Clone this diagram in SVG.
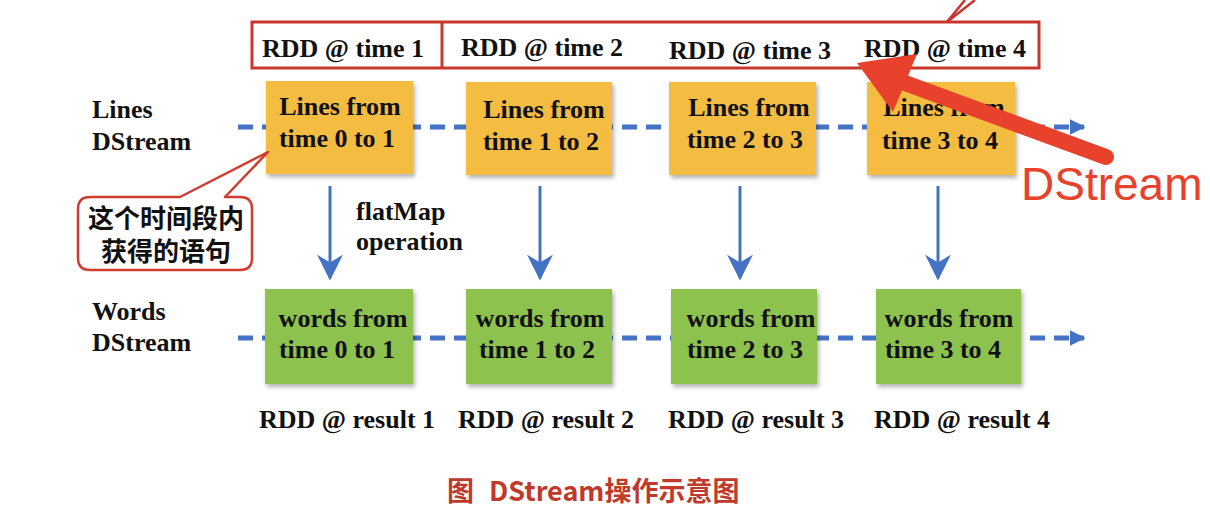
<svg xmlns="http://www.w3.org/2000/svg" width="1210" height="532" viewBox="0 0 1210 532">
<style>
.t{font-family:"Liberation Serif","Times New Roman",serif;font-weight:bold;font-size:26px;fill:#111;}
.c{text-anchor:middle;}
.yb{fill:#F4BC3F;filter:url(#sh);}
.gb{fill:#8EC24F;filter:url(#sh);}
.dash{stroke:#4472C4;stroke-width:5;stroke-dasharray:15 9;fill:none;}
.va{stroke:#4472C4;stroke-width:3;fill:none;}
.frame{fill:none;stroke:#C9372C;stroke-width:3;}
.cjk{font-family:"Noto Sans CJK SC",sans-serif;font-weight:bold;}
</style>
<defs>
<filter id="sh" x="-10%" y="-10%" width="125%" height="125%">
<feDropShadow dx="2" dy="3" stdDeviation="2" flood-color="#000" flood-opacity="0.3"/>
</filter>
<marker id="ah" viewBox="0 0 10 10" refX="9" refY="5" markerWidth="16" markerHeight="16" markerUnits="userSpaceOnUse" orient="auto">
<path d="M0,0 L10,5 L0,10 z" fill="#4472C4"/>
</marker>
<marker id="va" viewBox="0 0 10 10" refX="9" refY="5" markerWidth="26" markerHeight="26" markerUnits="userSpaceOnUse" orient="auto">
<path d="M0,0 L10,5 L0,10 L3,5 z" fill="#4472C4"/>
</marker>
</defs>
<rect width="1210" height="532" fill="#fff"/>

<g id="connectors">
<line class="dash" x1="238" y1="127" x2="1084" y2="127" marker-end="url(#ah)"/>
<line class="dash" x1="238" y1="338" x2="1084" y2="338" marker-end="url(#ah)"/>
<line class="va" x1="330" y1="186" x2="330" y2="278" marker-end="url(#va)"/>
<line class="va" x1="540" y1="186" x2="540" y2="278" marker-end="url(#va)"/>
<line class="va" x1="740" y1="186" x2="740" y2="278" marker-end="url(#va)"/>
<line class="va" x1="938" y1="186" x2="938" y2="278" marker-end="url(#va)"/>
</g>

<g id="time-frame">
<rect class="frame" x="252" y="22" width="787" height="46"/>
<line class="frame" x1="442" y1="22" x2="442" y2="68"/>
<polyline points="975,0 947,22 965,0" fill="none" stroke="#C9372C" stroke-width="2.5"/>
<text class="t c" x="343" y="57">RDD @ time 1</text>
<text class="t c" x="542" y="56">RDD @ time 2</text>
<text class="t c" x="750" y="59">RDD @ time 3</text>
<text class="t c" x="945" y="57">RDD @ time 4</text>
</g>

<g id="row-labels">
<text class="t" x="92" y="118">Lines</text>
<text class="t" x="92" y="150">DStream</text>
<text class="t" x="92" y="320">Words</text>
<text class="t" x="92" y="351">DStream</text>
<text class="t" x="356" y="220">flatMap</text>
<text class="t" x="356" y="250">operation</text>
</g>

<g id="lines-0-1"><rect class="yb" x="266" y="81" width="147" height="93"/><text class="t c" x="340" y="115">Lines from</text><text class="t c" x="337" y="147">time 0 to 1</text></g>
<g id="lines-1-2"><rect class="yb" x="466" y="82" width="146" height="93"/><text class="t c" x="544" y="118">Lines from</text><text class="t c" x="541" y="150">time 1 to 2</text></g>
<g id="lines-2-3"><rect class="yb" x="669" y="82" width="147" height="93"/><text class="t c" x="749" y="116">Lines from</text><text class="t c" x="745" y="148">time 2 to 3</text></g>
<g id="lines-3-4"><rect class="yb" x="867" y="82" width="148" height="93"/><text class="t c" x="944" y="116">Lines from</text><text class="t c" x="940" y="149">time 3 to 4</text></g>

<g id="words-0-1"><rect class="gb" x="265" y="289" width="148" height="95"/><text class="t c" x="343" y="327">words from</text><text class="t c" x="337" y="358">time 0 to 1</text></g>
<g id="words-1-2"><rect class="gb" x="466" y="289" width="146" height="95"/><text class="t c" x="540" y="327">words from</text><text class="t c" x="537" y="358">time 1 to 2</text></g>
<g id="words-2-3"><rect class="gb" x="671" y="289" width="146" height="95"/><text class="t c" x="751" y="327">words from</text><text class="t c" x="745" y="358">time 2 to 3</text></g>
<g id="words-3-4"><rect class="gb" x="876" y="289" width="145" height="95"/><text class="t c" x="949" y="327">words from</text><text class="t c" x="943" y="358">time 3 to 4</text></g>

<g id="results">
<text class="t c" x="347" y="428">RDD @ result 1</text>
<text class="t c" x="546" y="428">RDD @ result 2</text>
<text class="t c" x="756" y="428">RDD @ result 3</text>
<text class="t c" x="962" y="428">RDD @ result 4</text>
</g>

<g id="callout">
<path d="M90,197 L180,197 L268,152 L225,197 L240,197 Q252,197 252,209 L252,258 Q252,270 240,270 L90,270 Q78,270 78,258 L78,209 Q78,197 90,197 Z" fill="#fff" stroke="#D13C30" stroke-width="2.5" stroke-linejoin="round"/>
<text class="cjk" x="166" y="228" font-size="26" text-anchor="middle" fill="#111">这个时间段内</text>
<text class="cjk" x="166" y="261" font-size="26" text-anchor="middle" fill="#111">获得的语句</text>
</g>

<g id="annotation">
<line x1="1106" y1="157" x2="905" y2="83" stroke="#E8412C" stroke-width="16" stroke-linecap="round"/>
<polygon points="857,63 917,54 893,112" fill="#E8412C"/>
<text x="1021" y="200" font-family="'Liberation Sans',Arial,sans-serif" font-size="46" fill="#E8412C">DStream</text>
</g>

<g id="caption">
<text class="cjk" x="447" y="501" font-size="27" fill="#C0392B">图</text>
<text class="cjk" x="489" y="501" font-size="27" fill="#C0392B">DStream操作示意图</text>
</g>
</svg>
